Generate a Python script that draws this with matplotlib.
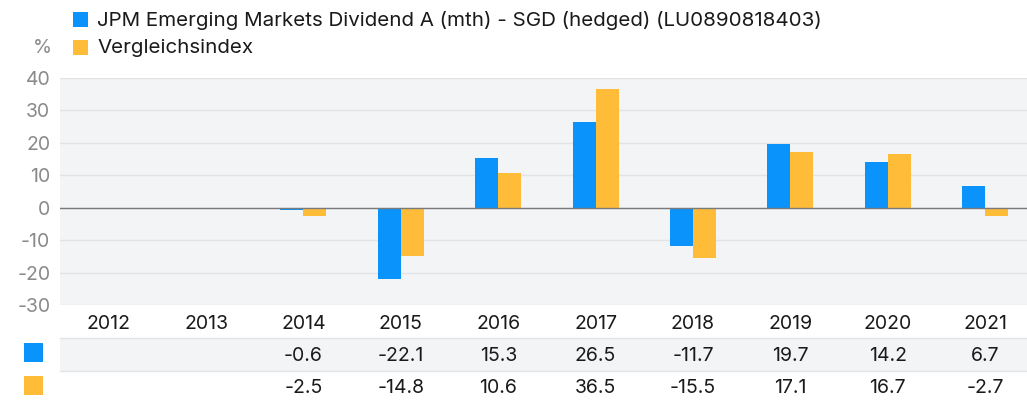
import numpy as np
import matplotlib
matplotlib.use("Agg")
import matplotlib.pyplot as plt
from matplotlib.patches import Rectangle
import matplotlib.transforms as mtransforms

plt.rcParams['font.family'] = ['Inter', 'DejaVu Sans']
plt.rcParams['axes.unicode_minus'] = False

# data
years = ['2012', '2013', '2014', '2015', '2016', '2017', '2018', '2019', '2020', '2021']
fund = [np.nan, np.nan, -0.6, -22.1, 15.3, 26.5, -11.7, 19.7, 14.2, 6.7]
index = [np.nan, np.nan, -2.5, -14.8, 10.6, 36.5, -15.5, 17.1, 16.7, -2.7]
fund_name = 'JPM Emerging Markets Dividend A (mth) - SGD (hedged) (LU0890818403)'
index_name = 'Vergleichsindex'

BLUE = '#0a93fb'
ORANGE = '#ffbc38'
W, H = 1027, 401
FS = 14

fig = plt.figure(figsize=(W / 100, H / 100), dpi=100)
ax = fig.add_axes([60 / W, 1 - 305 / H, (W - 60) / W, 227 / H])
ax.set_zorder(2)
ax.set_facecolor('#f3f4f6')

x = np.arange(len(years))
bw = 0.236
ax.bar(x - bw / 2, fund, bw, color=BLUE, zorder=3)
ax.bar(x + bw / 2, index, bw, color=ORANGE, zorder=3)

ax.set_xlim(-0.5, 9.43)
ax.set_ylim(-30, 40)
ax.set_yticks(range(-30, 41, 10))
ax.yaxis.grid(True, color='#e2e3e6', linewidth=1, zorder=0)
ax.axhline(0, color='#7a7a7a', linewidth=1, zorder=4)
ax.set_xticks([])
ax.tick_params(axis='y', length=0, labelsize=FS, labelcolor='#8a8a8a', pad=7)
for s in ax.spines.values():
    s.set_visible(False)

# table below the chart
trans = mtransforms.blended_transform_factory(ax.transData, ax.transAxes)
def ay(py):
    return (305 - py) / 227

fig.patches.append(Rectangle((60 / W, 1 - 371 / H), 1, 33 / H, transform=fig.transFigure,
                             facecolor='#f3f4f6', edgecolor='none', zorder=0))
for py in (338, 371):
    fig.add_artist(plt.Line2D([60 / W, 1], [1 - py / H] * 2, transform=fig.transFigure,
                              color='#e2e3e6', linewidth=1, zorder=1))

for i, yr in enumerate(years):
    ax.text(i, ay(324), yr, transform=trans, ha='center', va='center',
            fontsize=FS, color='#1a1a1a', clip_on=False)
    if not np.isnan(fund[i]):
        ax.text(i, ay(356), f'{fund[i]:.1f}', transform=trans, ha='center', va='center',
                fontsize=FS, color='#1a1a1a', clip_on=False)
    if not np.isnan(index[i]):
        ax.text(i, ay(388), f'{index[i]:.1f}', transform=trans, ha='center', va='center',
                fontsize=FS, color='#1a1a1a', clip_on=False)

for py, c in ((343, BLUE), (376, ORANGE)):
    fig.patches.append(Rectangle((24 / W, 1 - (py + 19) / H), 19 / W, 19 / H,
                                 transform=fig.transFigure, facecolor=c, edgecolor='none'))

# legend
for py, c, label in ((12, BLUE, fund_name), (40, ORANGE, index_name)):
    fig.patches.append(Rectangle((73 / W, 1 - (py + 15) / H), 15 / W, 15 / H,
                                 transform=fig.transFigure, facecolor=c, edgecolor='none'))
    fig.text(97 / W, 1 - (py + 8) / H, label, ha='left', va='center',
             fontsize=14.8, color='#1a1a1a')

fig.text(52 / W, 1 - 48 / H, '%', ha='right', va='center', fontsize=FS, color='#8a8a8a')

fig.savefig('out.png', dpi=100)
